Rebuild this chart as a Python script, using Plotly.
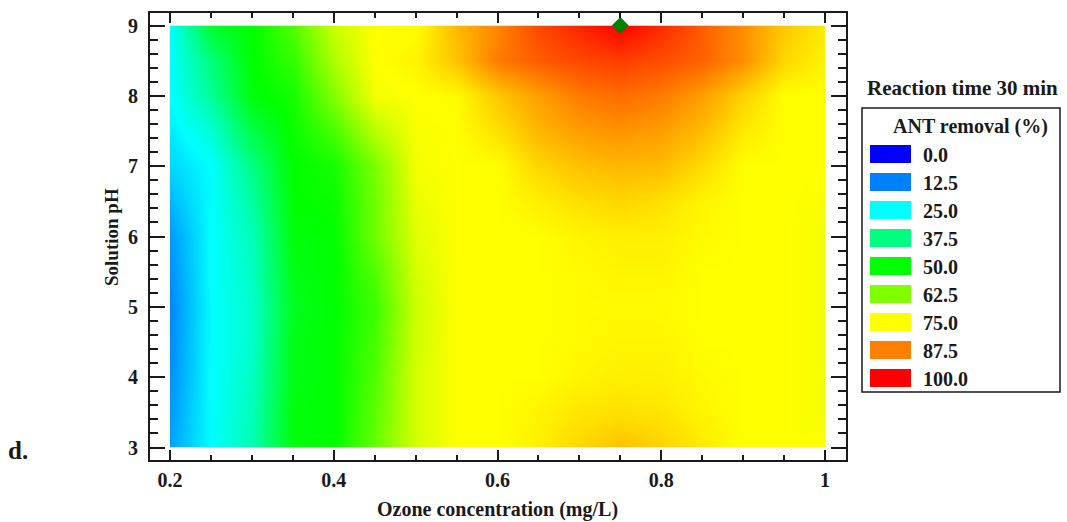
import plotly.graph_objects as go

# ---------------- data ----------------
ozone = [0.20, 0.25, 0.30, 0.35, 0.40, 0.45, 0.50, 0.55, 0.60,
         0.65, 0.70, 0.75, 0.80, 0.85, 0.90, 0.95, 1.00]
ph = [3.0, 3.5, 4.0, 4.5, 5.0, 5.5, 6.0, 6.5, 7.0, 7.5, 8.0, 8.5, 9.0]

ph_3_0 = [16, 25, 33, 49, 50, 60, 71, 75, 75, 76.5, 79, 81, 79.5, 77, 75, 75, 75]
ph_3_5 = [15, 25, 32, 49, 50, 59, 71, 75, 75, 76, 77.5, 78, 77.5, 76, 75, 75, 74]
ph_4_0 = [14, 25, 31, 48, 50, 58, 71, 75, 75, 75, 76, 76.5, 76.5, 75.5, 75, 75, 74]
ph_4_5 = [13.5, 25, 30, 48, 50, 57, 70.5, 75, 75, 75, 75.5, 76, 76, 75, 75, 75, 74]
ph_5_0 = [13, 25, 30, 47, 50, 56, 70, 75, 75, 75, 75.5, 75.5, 75.5, 75, 75, 75, 74]
ph_5_5 = [14, 25, 31, 48, 50, 58, 71, 75, 75, 75, 75.5, 76, 76, 75, 75, 75, 74]
ph_6_0 = [15, 25, 32, 49, 50, 61, 72, 75, 75, 75, 76, 76.5, 76.5, 75.5, 75, 75, 74]
ph_6_5 = [18, 25, 34, 50, 51, 61, 73, 75, 75, 76.5, 78, 79, 78, 76, 75, 75, 74.5]
ph_7_0 = [21, 25, 37, 50, 52, 62, 74, 75, 75, 79, 81, 82, 81.5, 78.5, 75, 75, 75]
ph_7_5 = [23, 29, 43, 51, 57, 68, 74.5, 75, 78, 82, 84.5, 85.5, 84.5, 81.5, 77, 75, 75]
ph_8_0 = [25, 35, 49, 52, 63, 74, 75, 75.5, 80.5, 84.5, 88, 89.5, 88, 84.5, 79.5, 75, 75]
ph_8_5 = [25, 38, 50, 55, 67, 75, 76, 81, 88, 91, 93, 94, 92.5, 90.5, 86, 79, 76]
ph_9_0 = [25, 46, 50, 58, 70, 75, 75, 82, 87, 93, 96.5, 100, 96, 91, 86, 80.5, 77]

removal = [ph_3_0, ph_3_5, ph_4_0, ph_4_5, ph_5_0, ph_5_5, ph_6_0,
           ph_6_5, ph_7_0, ph_7_5, ph_8_0, ph_8_5, ph_9_0]

optimum_ozone = [0.75]
optimum_ph = [9.0]

legend_levels = [0.0, 12.5, 25.0, 37.5, 50.0, 62.5, 75.0, 87.5, 100.0]
legend_colors = ["#0000ff", "#0080ff", "#00ffff", "#00ff80", "#00ff00",
                 "#80ff00", "#ffff00", "#ff8000", "#ff0000"]

# ---------------- figure ----------------
W, H = 1067, 522
FONT = "Liberation Serif"
INK = "#1a1a1a"


def px(x):
    return x / W


def py(y):
    return 1 - y / H


colorscale = [[lv / 100.0, c] for lv, c in zip(legend_levels, legend_colors)]

fig = go.Figure()

# heatmap on inner (data) subplot
fig.add_trace(go.Heatmap(
    x=ozone, y=ph, z=removal,
    colorscale=colorscale, zmin=0, zmax=100,
    zsmooth="best", showscale=False, hoverinfo="skip",
    xaxis="x", yaxis="y",
))

# optimum marker on frame subplot
fig.add_trace(go.Scatter(
    x=optimum_ozone, y=optimum_ph, mode="markers",
    marker=dict(symbol="diamond", size=13, color="#008000",
                line=dict(width=0)),
    cliponaxis=False, showlegend=False, hoverinfo="skip",
    xaxis="x2", yaxis="y2",
))

# pixel geometry
x_left_px, x_right_px = 170.0, 825.0        # x=0.2 .. x=1.0
y_top_px, y_bot_px = 25.5, 447.5            # pH 9 .. pH 3
frame_l, frame_r, frame_t, frame_b = 150.0, 845.5, 13.0, 460.0

xs = (x_right_px - x_left_px) / 0.8
ys = (y_bot_px - y_top_px) / 6.0
xr = [0.2 - (x_left_px - frame_l) / xs, 1.0 + (frame_r - x_right_px) / xs]
yr = [3.0 - (frame_b - y_bot_px) / ys, 9.0 + (y_top_px - frame_t) / ys]

tickfont = dict(family=FONT, size=20, color=INK, weight="bold")

fig.update_layout(
    width=W, height=H,
    margin=dict(l=0, r=0, t=0, b=0),
    paper_bgcolor="white", plot_bgcolor="rgba(0,0,0,0)",
    showlegend=False,
    xaxis=dict(domain=[px(x_left_px), px(x_right_px)], range=[0.2, 1.0],
               visible=False, anchor="y"),
    yaxis=dict(domain=[py(y_bot_px), py(y_top_px)], range=[3.0, 9.0],
               visible=False, anchor="x"),
    xaxis2=dict(domain=[px(frame_l), px(frame_r)], range=xr, anchor="y2",
                showgrid=False, zeroline=False,
                showline=True, linewidth=2, linecolor=INK, mirror="allticks",
                ticks="inside", ticklen=10, tickwidth=2, tickcolor=INK,
                tick0=0.2, dtick=0.2, tickfont=tickfont,
                ticklabelstandoff=1,
                minor=dict(ticks="inside", ticklen=5, tickwidth=2,
                           tickcolor=INK, tick0=0.2, dtick=0.05,
                           showgrid=False)),
    yaxis2=dict(domain=[py(frame_b), py(frame_t)], range=yr, anchor="x2",
                showgrid=False, zeroline=False,
                showline=True, linewidth=2, linecolor=INK, mirror="allticks",
                ticks="inside", ticklen=15, tickwidth=2, tickcolor=INK,
                tick0=3, dtick=1, tickfont=tickfont,
                ticklabelstandoff=6,
                minor=dict(ticks="inside", ticklen=8, tickwidth=2,
                           tickcolor=INK, tick0=3, dtick=0.2,
                           showgrid=False)),
)

ann = []
ann.append(dict(text="Ozone concentration (mg/L)", x=px(497), y=py(509),
                xref="paper", yref="paper", showarrow=False,
                xanchor="center", yanchor="middle",
                font=dict(family=FONT, size=20, color=INK, weight="bold")))
ann.append(dict(text="Solution pH", x=px(111), y=py(237),
                xref="paper", yref="paper", showarrow=False, textangle=-90,
                xanchor="center", yanchor="middle",
                font=dict(family=FONT, size=19, color=INK, weight="bold")))
ann.append(dict(text="d.", x=px(6), y=py(450),
                xref="paper", yref="paper", showarrow=False,
                xanchor="left", yanchor="middle",
                font=dict(family=FONT, size=25, color=INK, weight="bold")))
ann.append(dict(text="Reaction time 30 min", x=px(962), y=py(88),
                xref="paper", yref="paper", showarrow=False,
                xanchor="center", yanchor="middle",
                font=dict(family=FONT, size=21, color=INK, weight="bold")))
ann.append(dict(text="ANT removal (%)", x=px(970), y=py(126),
                xref="paper", yref="paper", showarrow=False,
                xanchor="center", yanchor="middle",
                font=dict(family=FONT, size=20, color=INK, weight="bold")))

shapes = []
shapes.append(dict(type="rect", xref="paper", yref="paper",
                   x0=px(862), x1=px(1060), y0=py(392), y1=py(108),
                   line=dict(color=INK, width=1.5), fillcolor="rgba(0,0,0,0)"))

for i, (lv, c) in enumerate(zip(legend_levels, legend_colors)):
    cy = 154 + 28 * i
    shapes.append(dict(type="rect", xref="paper", yref="paper",
                       x0=px(870), x1=px(911), y0=py(cy + 9), y1=py(cy - 9),
                       line=dict(width=0), fillcolor=c))
    ann.append(dict(text=f"{lv:.1f}", x=px(921), y=py(cy + 1),
                    xref="paper", yref="paper", showarrow=False,
                    xanchor="left", yanchor="middle",
                    font=dict(family=FONT, size=20, color=INK, weight="bold")))

fig.update_layout(annotations=ann, shapes=shapes)

fig.write_html("out.html")
